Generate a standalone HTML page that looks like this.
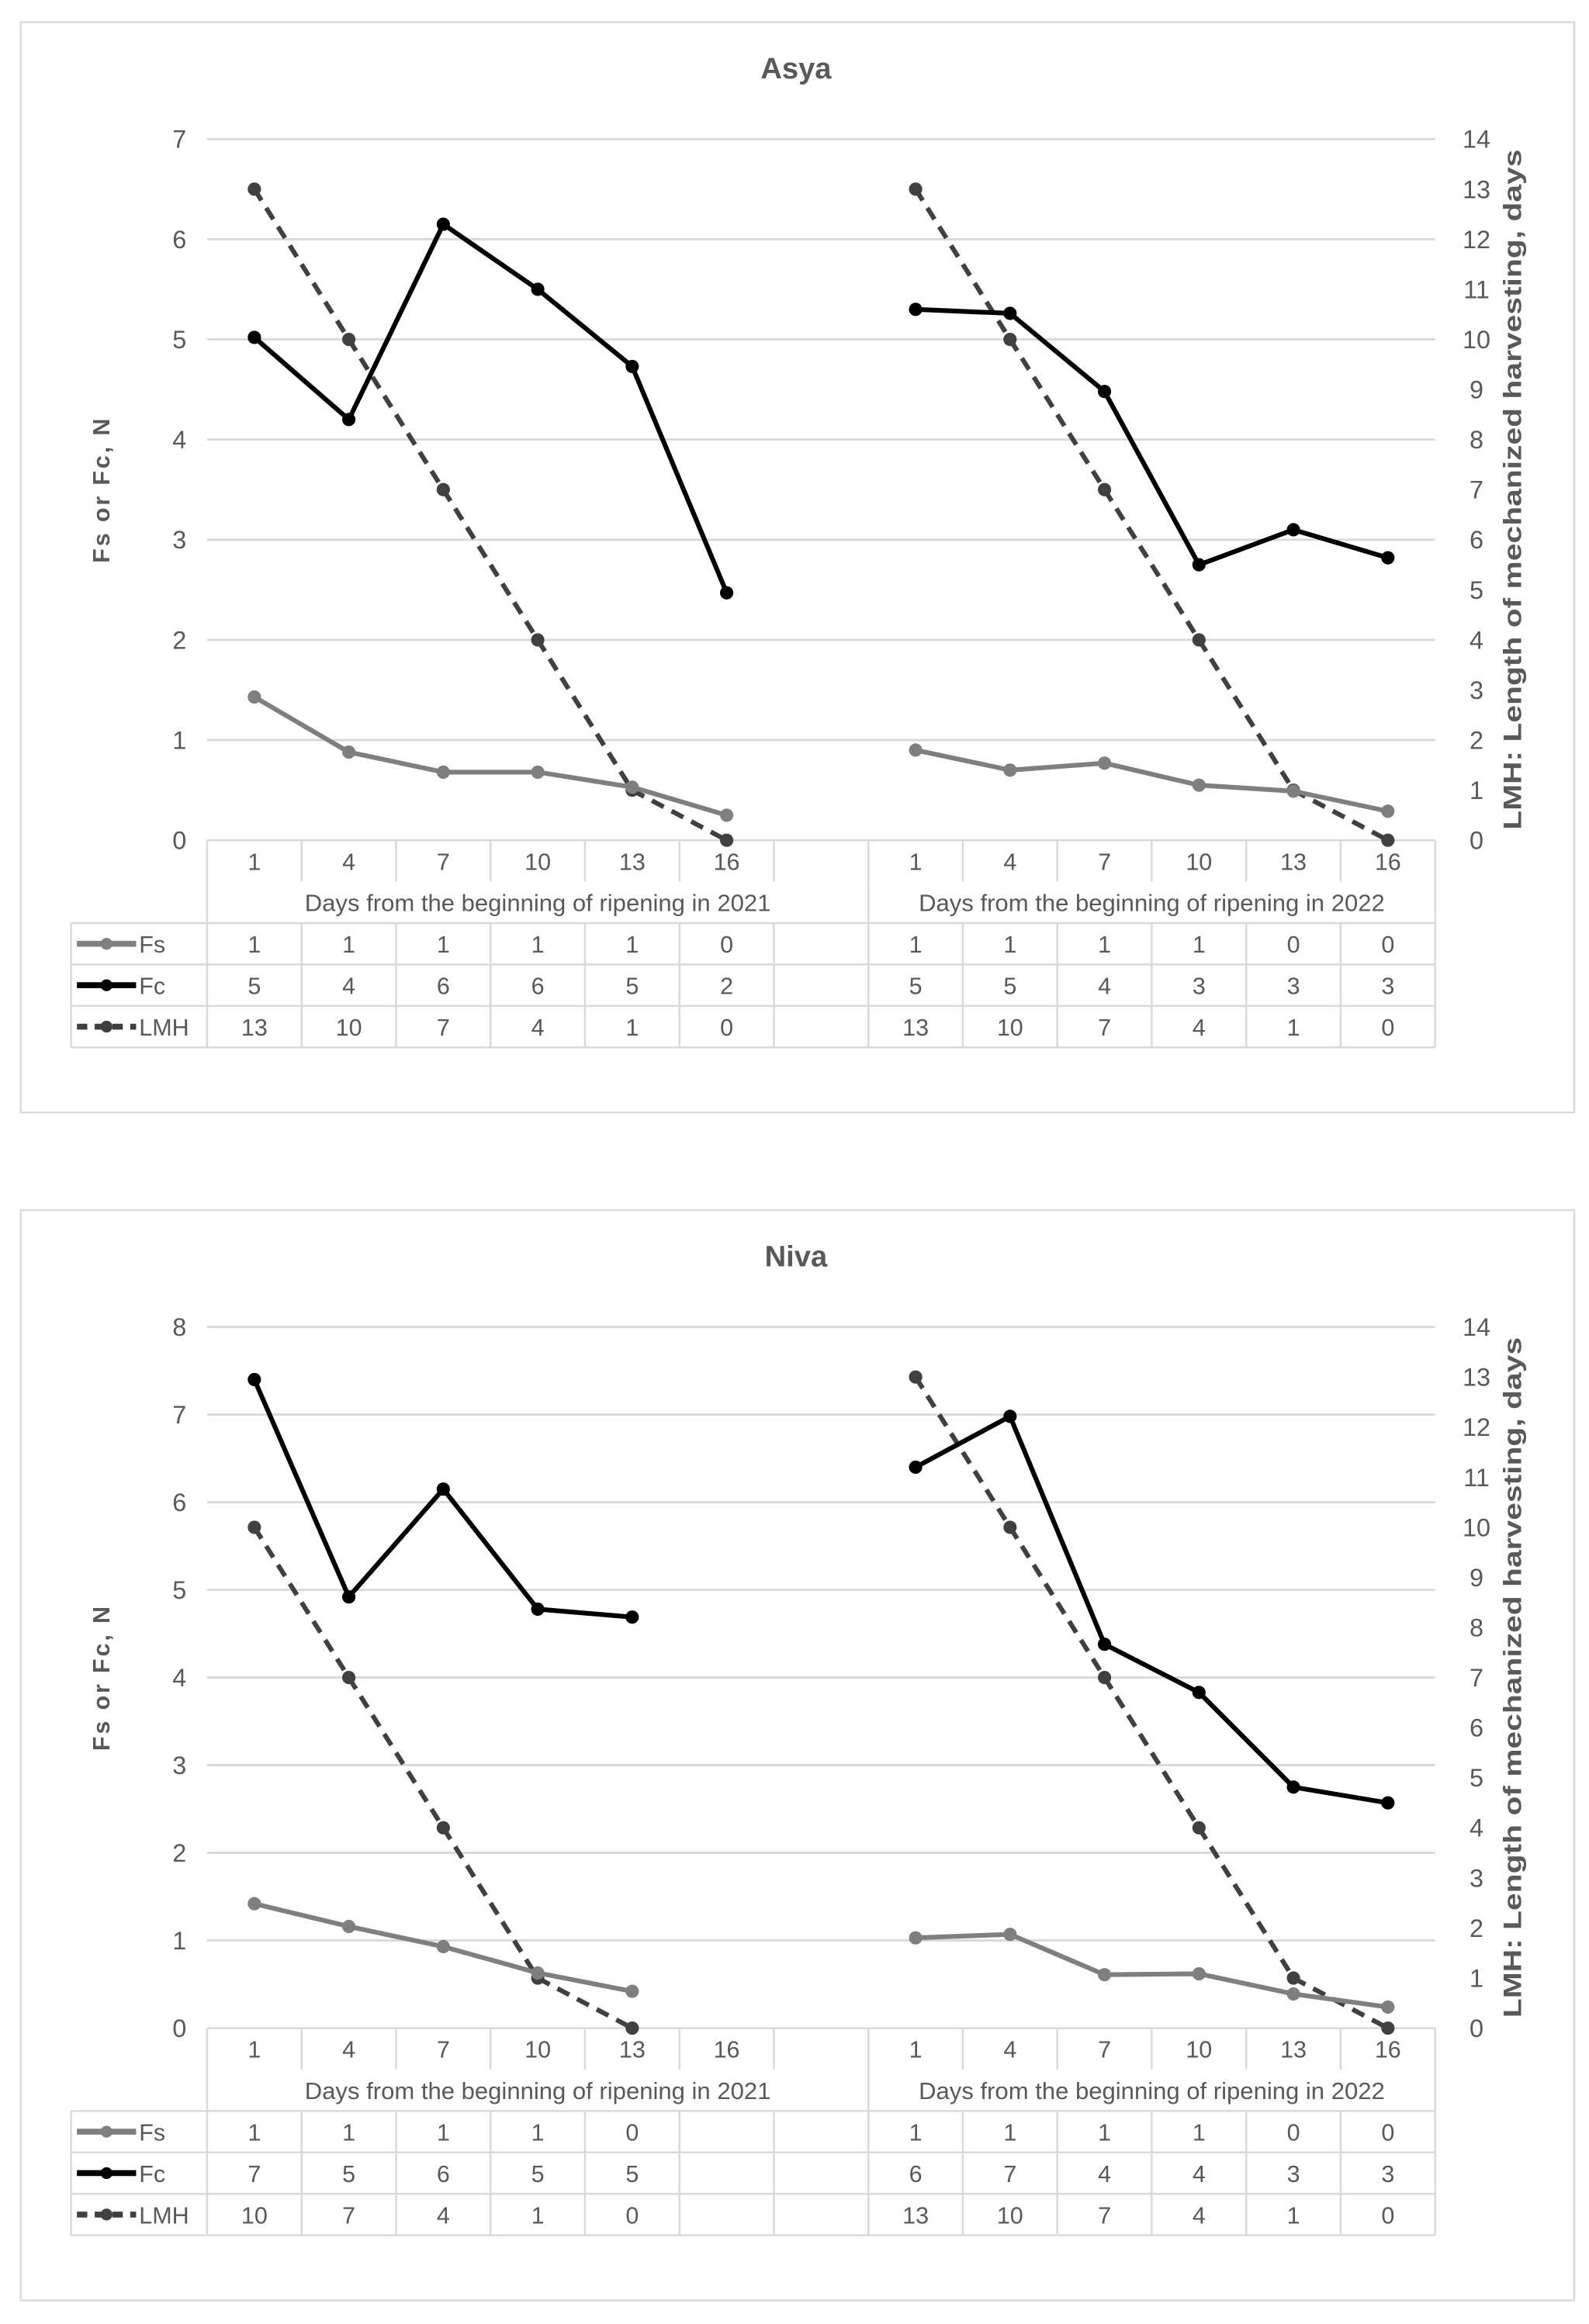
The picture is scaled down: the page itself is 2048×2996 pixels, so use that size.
<!DOCTYPE html>
<html><head><meta charset="utf-8">
<style>
html,body{margin:0;padding:0;background:#fff;}
svg{display:block;}
text{font-family:"Liberation Sans",Arial,sans-serif;}
</style></head>
<body>
<svg id="root" width="2048" height="2996" viewBox="0 0 1074 1571" preserveAspectRatio="none" xmlns="http://www.w3.org/2000/svg"></svg>
<script>
// ---- data ----
const categories = ["1","4","7","10","13","16"];
const yearLabels = ["Days from the beginning of ripening in 2021","Days from the beginning of ripening in 2022"];

const asyaFs2021 = [1.43,0.88,0.68,0.68,0.53,0.25];
const asyaFs2022 = [0.9,0.7,0.77,0.55,0.49,0.29];
const asyaFc2021 = [5.02,4.2,6.15,5.5,4.73,2.47];
const asyaFc2022 = [5.3,5.26,4.48,2.75,3.1,2.82];
const asyaLmh2021 = [13,10,7,4,1,0];
const asyaLmh2022 = [13,10,7,4,1,0];
const asyaFsTable = ["1","1","1","1","1","0","","1","1","1","1","0","0"];
const asyaFcTable = ["5","4","6","6","5","2","","5","5","4","3","3","3"];
const asyaLmhTable = ["13","10","7","4","1","0","","13","10","7","4","1","0"];
const asyaLeftTicks = [0,1,2,3,4,5,6,7];

const nivaFs2021 = [1.42,1.16,0.93,0.63,0.42,null];
const nivaFs2022 = [1.03,1.07,0.61,0.62,0.39,0.24];
const nivaFc2021 = [7.4,4.92,6.15,4.78,4.69,null];
const nivaFc2022 = [6.4,6.98,4.38,3.83,2.75,2.57];
const nivaLmh2021 = [10,7,4,1,0,null];
const nivaLmh2022 = [13,10,7,4,1,0];
const nivaFsTable = ["1","1","1","1","0","","","1","1","1","1","0","0"];
const nivaFcTable = ["7","5","6","5","5","","","6","7","4","4","3","3"];
const nivaLmhTable = ["10","7","4","1","0","","","13","10","7","4","1","0"];
const nivaLeftTicks = [0,1,2,3,4,5,6,7,8];

const rightTicks = [0,1,2,3,4,5,6,7,8,9,10,11,12,13,14];

const NS="http://www.w3.org/2000/svg";
const root=document.getElementById('root');
function mk(tag,attrs,parent,txt){const e=document.createElementNS(NS,tag);for(const k in attrs)e.setAttribute(k,attrs[k]);if(txt!==undefined)e.textContent=txt;(parent||root).appendChild(e);return e;}

function drawChart(o){
  const g=mk('g',{});
  
  
  const top=o.top;
  const fr=mk('rect',{x:14,y:top,width:1050,height:737,fill:'#fff',stroke:'#d9d9d9','stroke-width':1.2},g);
  
  const t=mk('text',{x:538,y:top+38,'text-anchor':'middle','font-size':20,'font-weight':'bold',fill:'#595959'},g,o.title);
  
  const y0=o.y0, yTop=o.yTop, maxL=o.maxL;
  const yL=v=>y0-(v/maxL)*(y0-yTop);
  const yR=v=>y0-(v/14)*(y0-yTop);
  const plotL=140, plotR=970, slot=(plotR-plotL)/13;
  const xC=i=>plotL+slot*(i+0.5);
  // grid + left ticks
  o.leftTicks.forEach(v=>{
    if(v>0){const l=mk('line',{x1:plotL,x2:plotR,y1:yL(v),y2:yL(v),stroke:'#d9d9d9','stroke-width':1.5},g);
      }
    const tx=mk('text',{x:126,y:yL(v)+6,'text-anchor':'end','font-size':17,fill:'#595959'},g,String(v));
    
  });
  rightTicks.forEach(v=>{
    const tx=mk('text',{x:998,y:yR(v)+6,'text-anchor':'middle','font-size':17,fill:'#595959'},g,String(v));
    
  });
  const ly=(y0+yTop)/2;
  const lt=mk('text',{x:0,y:0,'text-anchor':'middle','font-size':16,'font-weight':'bold',fill:'#595959','letter-spacing':1.5,transform:`translate(74,${ly}) rotate(-90)`},g,'Fs or Fc, N');
  
  const rt=mk('text',{x:0,y:0,'text-anchor':'middle','font-size':17,'font-weight':'bold',fill:'#595959',textLength:460,lengthAdjust:'spacingAndGlyphs',transform:`translate(1028,${ly}) rotate(-90)`},g,'LMH: Length of mechanized harvesting, days');
  
  // table
  const rh=28, r0=y0;
  const tg=mk('g',{stroke:'#d9d9d9','stroke-width':1.3,fill:'none'},g);
  
  mk('line',{x1:plotL,x2:plotR,y1:r0,y2:r0},tg);
  for(let r=2;r<=5;r++) mk('line',{x1:48,x2:plotR,y1:r0+r*rh,y2:r0+r*rh},tg);
  mk('line',{x1:48,x2:48,y1:r0+2*rh,y2:r0+5*rh},tg);
  for(let i=0;i<=13;i++){
    const x=plotL+slot*i;
    mk('line',{x1:x,x2:x,y1:r0,y2:r0+rh},tg);
    mk('line',{x1:x,x2:x,y1:r0+2*rh,y2:r0+5*rh},tg);
  }
  [plotL,plotL+slot*7,plotR].forEach(x=>mk('line',{x1:x,x2:x,y1:r0+rh,y2:r0+2*rh},tg));
  for(let i=0;i<13;i++){
    if(i===6) continue;
    const c=categories[i<6?i:i-7];
    const tx=mk('text',{x:xC(i),y:r0+20,'text-anchor':'middle','font-size':16,fill:'#595959'},g,c);
    
  }
  [[plotL+slot*3.5,yearLabels[0]],[plotL+slot*10,yearLabels[1]]].forEach(([x,s])=>{
    const tx=mk('text',{x:x,y:r0+rh+20,'text-anchor':'middle','font-size':16,fill:'#595959',textLength:315,lengthAdjust:'spacingAndGlyphs'},g,s);
    
  });
  const rows=[['Fs',o.fsT,'#7f7f7f',null],['Fc',o.fcT,'#000',null],['LMH',o.lmhT,'#404040','6,4']];
  rows.forEach((r,ri)=>{
    const yy=r0+(2+ri)*rh+rh/2;
    const lg=mk('g',{},g);
    
    const la={x1:52,x2:92,y1:yy,y2:yy,stroke:r[2],'stroke-width':4};
    if(r[3])la['stroke-dasharray']='7,5';
    mk('line',la,lg);
    mk('circle',{cx:72,cy:yy,r:4,fill:r[2]},lg);
    mk('text',{x:94,y:yy+6,'font-size':16,fill:'#595959'},lg,r[0]);
    r[1].forEach((s,i)=>{
      if(!s) return;
      const tx=mk('text',{x:xC(i),y:yy+6,'text-anchor':'middle','font-size':16,fill:'#595959'},g,s);
      
    });
  });
  // series
  function series(vals,offset,yf,color,dash,name){
    const pts=[];vals.forEach((v,i)=>{if(v!==null)pts.push([xC(i+offset),yf(v)]);});
    const sg=mk('g',{},g);
    
    const a={points:pts.map(p=>p.join(',')).join(' '),fill:'none',stroke:color,'stroke-width':3.2,'stroke-linejoin':'round'};
    if(dash)a['stroke-dasharray']=dash;
    mk('polyline',a,sg);
    pts.forEach(p=>mk('circle',{cx:p[0],cy:p[1],r:4.5,fill:color},sg));
  }
  series(o.lmh21,0,yR,'#404040','9,6','lmh-2021-line');
  series(o.lmh22,7,yR,'#404040','9,6','lmh-2022-line');
  series(o.fs21,0,yL,'#7f7f7f',null,'fs-2021-line');
  series(o.fs22,7,yL,'#7f7f7f',null,'fs-2022-line');
  series(o.fc21,0,yL,'#000',null,'fc-2021-line');
  series(o.fc22,7,yL,'#000',null,'fc-2022-line');
}

drawChart({name:'asya',title:'Asya',top:15,y0:568,yTop:94,maxL:7,leftTicks:asyaLeftTicks,
  fs21:asyaFs2021,fs22:asyaFs2022,fc21:asyaFc2021,fc22:asyaFc2022,lmh21:asyaLmh2021,lmh22:asyaLmh2022,
  fsT:asyaFsTable,fcT:asyaFcTable,lmhT:asyaLmhTable});
drawChart({name:'niva',title:'Niva',top:818,y0:1371,yTop:897,maxL:8,leftTicks:nivaLeftTicks,
  fs21:nivaFs2021,fs22:nivaFs2022,fc21:nivaFc2021,fc22:nivaFc2022,lmh21:nivaLmh2021,lmh22:nivaLmh2022,
  fsT:nivaFsTable,fcT:nivaFcTable,lmhT:nivaLmhTable});
</script>
</body></html>
